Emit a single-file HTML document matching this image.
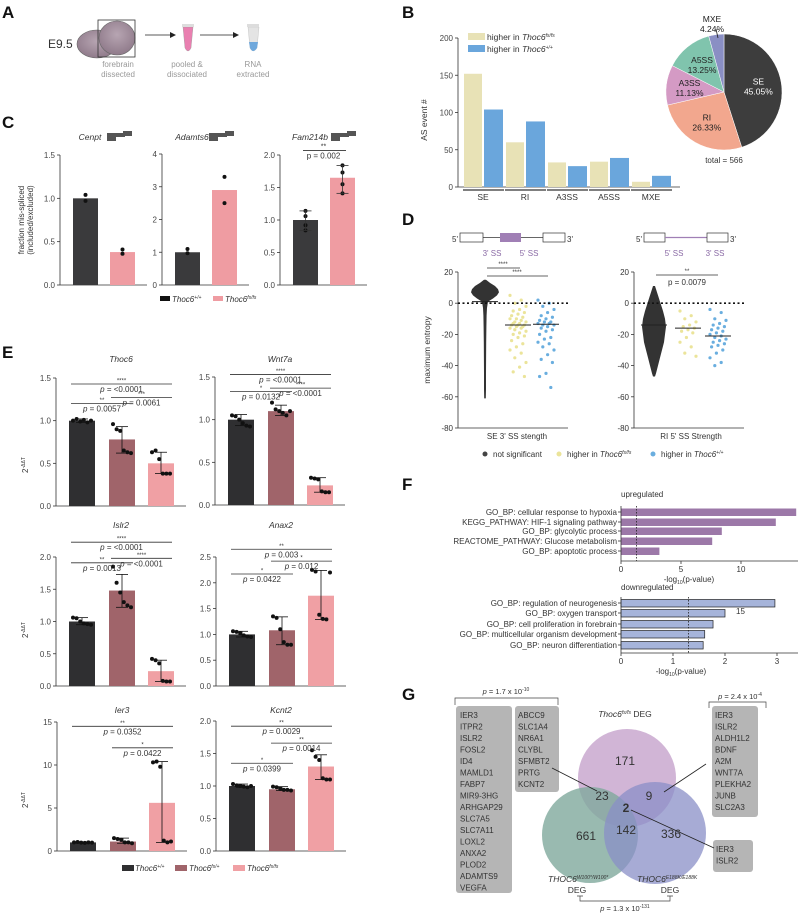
<!DOCTYPE html>
<html><head><meta charset="utf-8"><style>
html,body{margin:0;padding:0;background:#fff;}
svg{display:block;font-family:"Liberation Sans",Arial,sans-serif;}
</style></head><body>
<svg id="fig" width="800" height="915" viewBox="0 0 800 915" xmlns="http://www.w3.org/2000/svg">
<defs><radialGradient id="brainG" cx="0.5" cy="0.4" r="0.6"><stop offset="0" stop-color="#b7a5b2"/><stop offset="1" stop-color="#8f7a8a"/></radialGradient></defs>
<g font-weight="bold" font-size="17" fill="#111">
<text x="2" y="18">A</text>
<text x="402" y="18">B</text>
<text x="2" y="128">C</text>
<text x="402" y="225">D</text>
<text x="2" y="358">E</text>
<text x="402" y="490">F</text>
<text x="402" y="700">G</text>
</g>
<g>
<text x="48" y="48" font-size="12" fill="#333">E9.5</text>
<ellipse cx="97" cy="44" rx="20" ry="14" fill="url(#brainG)" stroke="#666" stroke-width="0.6"/>
<ellipse cx="117" cy="38" rx="18" ry="17" fill="url(#brainG)" stroke="#666" stroke-width="0.6"/>
<rect x="98" y="20" width="37" height="37" fill="none" stroke="#333" stroke-width="0.8"/>
<text x="118" y="67" font-size="8" fill="#999" text-anchor="middle">forebrain</text>
<text x="118" y="77" font-size="8" fill="#999" text-anchor="middle">dissected</text>
<line x1="145" y1="35" x2="172" y2="35" stroke="#222" stroke-width="0.8"/>
<polygon points="176,35 170,32 170,38" fill="#222"/>
<path d="M183,27 L193,27 L191,48 Q188,54 185,48 Z" fill="#e97fb0" stroke="#999" stroke-width="0.4"/>
<rect x="182" y="24" width="12" height="3" fill="#ddd"/>
<text x="187" y="67" font-size="8" fill="#999" text-anchor="middle">pooled &amp;</text>
<text x="187" y="77" font-size="8" fill="#999" text-anchor="middle">dissociated</text>
<line x1="200" y1="35" x2="235" y2="35" stroke="#222" stroke-width="0.8"/>
<polygon points="239,35 233,32 233,38" fill="#222"/>
<path d="M248,27 L259,27 L257,48 Q253,54 250,48 Z" fill="#e4e4e4" stroke="#bbb" stroke-width="0.4"/>
<path d="M249,42 L258,42 L257,48 Q253,54 250,48 Z" fill="#6fa8dc"/>
<rect x="247" y="24" width="12" height="3" fill="#ddd"/>
<text x="253" y="67" font-size="8" fill="#999" text-anchor="middle">RNA</text>
<text x="253" y="77" font-size="8" fill="#999" text-anchor="middle">extracted</text>
</g>
<g font-size="8.5" fill="#333">
<circle cx="627" cy="778" r="49" fill="#c9a8cf" fill-opacity="0.85"/>
<circle cx="590" cy="835" r="48" fill="#7fa99c" fill-opacity="0.8"/>
<circle cx="655" cy="833" r="51" fill="#8a8fc7" fill-opacity="0.75"/>
<g font-size="12" text-anchor="middle" fill="#333">
<text x="625" y="765">171</text>
<text x="602" y="800">23</text>
<text x="649" y="800">9</text>
<text x="626" y="812" font-weight="bold">2</text>
<text x="586" y="840">661</text>
<text x="626" y="834">142</text>
<text x="671" y="838">336</text>
</g>
<text x="625" y="717" text-anchor="middle"><tspan font-style="italic">Thoc6</tspan><tspan font-size="5" dy="-3" font-style="italic">fs/fs</tspan><tspan dy="3"> DEG</tspan></text>
<text x="548" y="882" text-anchor="start"><tspan font-style="italic">THOC6</tspan><tspan font-size="5" dy="-3" font-style="italic">W100*/W100*</tspan></text>
<text x="577" y="893" text-anchor="middle">DEG</text>
<text x="637" y="882" text-anchor="start"><tspan font-style="italic">THOC6</tspan><tspan font-size="5" dy="-3" font-style="italic">E188K/E188K</tspan></text>
<text x="670" y="893" text-anchor="middle">DEG</text>
<path d="M580,896 V901 H670 V896 M577,896 H583 M667,896 H673" fill="none" stroke="#444" stroke-width="0.7"/>
<text x="625" y="911" font-size="7.5" text-anchor="middle"><tspan font-style="italic">p</tspan> = 1.3 x 10<tspan font-size="5" dy="-3">-131</tspan></text>
<path d="M455,705 V698 H558 V705" fill="none" stroke="#444" stroke-width="0.7"/>
<text x="506" y="694" font-size="7.5" text-anchor="middle"><tspan font-style="italic">p</tspan> = 1.7 x 10<tspan font-size="5" dy="-3">-10</tspan></text>
<path d="M709,708 V702 H766 V708" fill="none" stroke="#444" stroke-width="0.7"/>
<text x="740" y="699" font-size="7.5" text-anchor="middle"><tspan font-style="italic">p</tspan> = 2.4 x 10<tspan font-size="5" dy="-3">-4</tspan></text>
<rect x="456" y="706" width="56" height="187" rx="3" fill="#b5b5b5"/>
<rect x="515" y="706" width="44" height="86" rx="3" fill="#b5b5b5"/>
<rect x="712" y="706" width="46" height="111" rx="3" fill="#b5b5b5"/>
<rect x="713" y="840" width="40" height="32" rx="3" fill="#b5b5b5"/>
<line x1="552" y1="768" x2="597" y2="791" stroke="#222" stroke-width="0.8"/>
<line x1="706" y1="764" x2="664" y2="792" stroke="#222" stroke-width="0.8"/>
<line x1="631" y1="810" x2="714" y2="848" stroke="#222" stroke-width="0.8"/>
<g id="geneLists" font-size="8" fill="#333"></g>
</g>
<g id="charts"></g>
</svg>
<script>
// Panel B
const bCategories=['SE','RI','A3SS','A5SS','MXE'];
const bHigherFs=[152,60,33,34,7];
const bHigherWt=[104,88,28,39,15];
const bTicks=[0,50,100,150,200];
const pieLabels=['SE','RI','A3SS','A5SS','MXE'];
const pieValues=[45.05,26.33,11.13,13.25,4.24];
// Panel C
const cGenes=['Cenpt','Adamts6','Fam214b'];
const cWT=[1.0,1.0,1.0];
const cFS=[0.38,2.9,1.65];
const cPtsWT=[[1.04,0.97],[1.1,0.97],[1.14,1.06,0.92,0.84]];
const cPtsFS=[[0.41,0.36],[3.3,2.5],[1.84,1.73,1.55,1.41]];
const cMax=[1.5,4,2.0];
const cTicks=[[0,0.5,1.0,1.5],[0,1,2,3,4],[0,0.5,1.0,1.5,2.0]];
// Panel D
const dSEyellow=[5,2,0,-2,-4,-5,-6,-7,-8,-9,-10,-10,-11,-12,-12,-13,-13,-14,-14,-14,-15,-15,-16,-16,-17,-18,-19,-20,-21,-22,-24,-26,-28,-30,-32,-35,-38,-41,-44,-47];
const dSEblue=[2,0,-2,-4,-6,-8,-9,-10,-11,-12,-12,-13,-13,-14,-14,-15,-16,-17,-18,-20,-22,-23,-25,-26,-28,-30,-33,-36,-38,-45,-47,-54];
const dRIyellow=[-5,-8,-10,-12,-14,-15,-16,-17,-18,-19,-22,-25,-28,-32,-34];
const dRIblue=[-4,-6,-10,-11,-13,-14,-15,-16,-17,-18,-19,-20,-21,-22,-23,-24,-25,-26,-27,-28,-30,-32,-35,-38,-40];
const dMedians=[[1,-14,-13.5],[-14,-16,-21]];
const dSEviolinVals=[15,13,11,9,7,5,3,1,-3,-8,-15,-25,-35,-45,-55,-61];
const dSEviolinWidth=[1,5,10,13,14,12,8,3,2,1.6,1.4,1.2,1.1,1,1,0.8];
const dRIviolinVals=[11,7,3,-1,-5,-10,-15,-20,-25,-30,-35,-40,-45,-47];
const dRIviolinWidth=[1,3,5,7,9,11,12,11,10,8,6,4,2,1];
const dTicks=[20,0,-20,-40,-60,-80];
// Panel E
const eGenes=['Thoc6','Wnt7a','Islr2','Anax2','Ier3','Kcnt2'];
const eMeans=[[1.0,0.78,0.5],[1.0,1.1,0.23],[1.0,1.48,0.23],[1.0,1.08,1.75],[1.0,1.1,5.6],[1.0,0.95,1.3]];
const ePoints=[
 [[1.0,1.02,0.99,1.01,0.98,1.0],[0.96,0.9,0.88,0.65,0.63,0.62],[0.63,0.65,0.55,0.38,0.38,0.38]],
 [[1.05,1.04,1.0,0.96,0.93,0.92],[1.2,1.12,1.1,1.08,1.05,1.1],[0.32,0.31,0.3,0.16,0.15,0.15]],
 [[1.06,1.05,1.0,0.97,0.96,0.95],[1.85,1.6,1.45,1.3,1.25,1.22],[0.42,0.4,0.35,0.08,0.07,0.07]],
 [[1.06,1.05,1.02,0.98,0.96,0.95],[1.35,1.32,1.1,0.85,0.8,0.8],[2.25,2.22,1.38,1.3,1.29,2.2]],
 [[1.0,1.05,0.98,0.95,1.0,0.97],[1.5,1.4,1.3,1.0,1.0,0.9],[10.3,10.4,9.8,1.2,1.0,1.1]],
 [[1.03,1.01,1.0,0.99,0.98,1.0],[0.99,0.98,0.96,0.94,0.94,0.93],[1.55,1.45,1.4,1.12,1.1,1.1]]];
const eErrLo=[[0.98,0.62,0.38],[0.93,1.05,0.15],[0.95,1.22,0.07],[0.95,0.8,1.29],[0.95,0.9,1.0],[0.98,0.93,1.1]];
const eErrHi=[[1.02,0.93,0.63],[1.06,1.17,0.32],[1.06,1.73,0.4],[1.06,1.34,2.24],[1.05,1.5,10.4],[1.03,0.99,1.48]];
const eMax=[1.5,1.5,2.0,2.5,15,2.0];
const eTicks=[[0,0.5,1.0,1.5],[0,0.5,1.0,1.5],[0,0.5,1.0,1.5,2.0],[0,0.5,1.0,1.5,2.0,2.5],[0,5,10,15],[0,0.5,1.0,1.5,2.0]];
const eBrackets=[
 [[0,2,1.43,'****','p = <0.0001'],[0,1,1.2,'**','p = 0.0057'],[1,2,1.27,'***','p = 0.0061']],
 [[0,2,1.53,'****','p = <0.0001'],[0,1,1.33,'*','p = 0.0132'],[1,2,1.37,'****','p = <0.0001']],
 [[0,2,2.23,'****','p = <0.0001'],[0,1,1.91,'**','p = 0.0013'],[1,2,1.98,'****','p = <0.0001']],
 [[0,2,2.65,'**','p = 0.003'],[0,1,2.17,'*','p = 0.0422'],[1,2,2.42,'*','p = 0.012']],
 [[0,2,14.5,'**','p = 0.0352'],[1,2,12,'*','p = 0.0422']],
 [[0,2,1.92,'**','p = 0.0029'],[1,2,1.66,'**','p = 0.0014'],[0,1,1.35,'*','p = 0.0399']]];
// Panel F
const fUpTerms=['GO_BP: cellular response to hypoxia','KEGG_PATHWAY: HIF-1 signaling pathway','GO_BP: glycolytic process','REACTOME_PATHWAY: Glucose metabolism','GO_BP: apoptotic process'];
const fUpVals=[14.6,12.9,8.4,7.6,3.2];
const fUpTicks=[0,5,10];
const fDownTerms=['GO_BP: regulation of neurogenesis','GO_BP: oxygen transport','GO_BP: cell proliferation in forebrain','GO_BP: multicellular organism development','GO_BP: neuron differentiation'];
const fDownVals=[2.96,2.0,1.77,1.61,1.58];
const fDownTicks=[0,1,2,3];
const fThreshold=1.3;
// Panel G gene lists
const gList1=['IER3','ITPR2','ISLR2','FOSL2','ID4','MAMLD1','FABP7','MIR9-3HG','ARHGAP29','SLC7A5','SLC7A11','LOXL2','ANXA2','PLOD2','ADAMTS9','VEGFA'];
const gList2=['ABCC9','SLC1A4','NR6A1','CLYBL','SFMBT2','PRTG','KCNT2'];
const gList3=['IER3','ISLR2','ALDH1L2','BDNF','A2M','WNT7A','PLEKHA2','JUNB','SLC2A3'];
const gList4=['IER3','ISLR2'];

const NS='http://www.w3.org/2000/svg';
const root=document.getElementById('charts');
function mk(t,a,p){const e=document.createElementNS(NS,t);for(const k in a)e.setAttribute(k,a[k]);(p||root).appendChild(e);return e;}
function nm(e,n){
 
 
 return e;}
function T(x,y,s,o,p){const e=mk('text',Object.assign({x:x,y:y,'font-size':8,fill:'#333'},o||{}),p);e.textContent=s;return e;}
function supText(x,y,base,sup,o,p){const e=mk('text',Object.assign({x:x,y:y,'font-size':8,fill:'#333'},o||{}),p);
 const a=mk('tspan',{'font-style':'italic'},e);a.textContent=base;
 const b=mk('tspan',{'font-size':5,dy:-3,'font-style':'italic'},e);b.textContent=sup;return e;}
function L(x1,y1,x2,y2,o,p){return mk('line',Object.assign({x1:x1,y1:y1,x2:x2,y2:y2,stroke:'#333','stroke-width':0.8},o||{}),p);}
function fmt(v,max){return max<=5&&max!==4?v.toFixed(1):String(v);}
function yAxis(g,x,top,zero,max,ticks,name){
 const s=v=>zero-(zero-top)*v/max;
 nm(L(x,s(ticks[ticks.length-1]),x,zero,{},g),name+'-y-axis');
 ticks.forEach(t=>{nm(L(x-3,s(t),x,s(t),{},g),name+'-y-tick');
  nm(T(x-5,s(t)+3,fmt(t,max),{'text-anchor':'end','font-size':8,fill:'#444'},g),name+'-y-tick-label');});
 return s;}
function dot(g,x,y,r,fill,name){return nm(mk('circle',{cx:x,cy:y,r:r,fill:fill},g),name);}

const gl=document.getElementById('geneLists');
gList1.forEach((s,i)=>{nm(T(460,718+i*11.5,s,{'font-size':8},gl),'gene-list-left-item');});
gList2.forEach((s,i)=>{nm(T(518,718+i*11.5,s,{'font-size':8},gl),'gene-list-left2-item');});
gList3.forEach((s,i)=>{nm(T(715,718+i*11.5,s,{'font-size':8},gl),'gene-list-right-item');});
gList4.forEach((s,i)=>{nm(T(716,852+i*11.5,s,{'font-size':8},gl),'gene-list-center-item');});

// PANEL B
(function(){
 const g=nm(mk('g',{}),'panel-b-bar-chart');
 const s=yAxis(g,458,38,187,200,bTicks,'b');
 nm(L(458,187,680,187,{},g),'b-x-axis');
 nm(T(427,120,'AS event #',{'text-anchor':'middle',transform:'rotate(-90 427 120)','font-size':8.5},g),'b-y-axis-title');
 bCategories.forEach((c,i)=>{
  const x0=464+i*42;
  nm(mk('rect',{x:x0,y:s(bHigherFs[i]),width:18,height:187-s(bHigherFs[i]),fill:'#e8e2b6'},g),'bar-fs-'+c);
  nm(mk('rect',{x:x0+20,y:s(bHigherWt[i]),width:19,height:187-s(bHigherWt[i]),fill:'#6aa6dc'},g),'bar-wt-'+c);
  nm(L(x0-1,190,x0+40,190,{'stroke-width':1.2},g),'group-underline');
  nm(T(x0+19,200,c,{'text-anchor':'middle','font-size':8.5},g),'b-x-label');});
 nm(mk('rect',{x:468,y:33,width:17,height:7,fill:'#e8e2b6'},g),'legend-fs-swatch');
 const t1=nm(T(487,40,'higher in ',{'font-size':8.5},g),'legend-fs-label');
 const a=mk('tspan',{'font-style':'italic'},t1);a.textContent='Thoc6';const b=mk('tspan',{'font-size':5,dy:-3,'font-style':'italic'},t1);b.textContent='fs/fs';
 nm(mk('rect',{x:468,y:45,width:17,height:7,fill:'#6aa6dc'},g),'legend-wt-swatch');
 const t2=nm(T(487,52,'higher in ',{'font-size':8.5},g),'legend-wt-label');
 const c=mk('tspan',{'font-style':'italic'},t2);c.textContent='Thoc6';const d=mk('tspan',{'font-size':5,dy:-3,'font-style':'italic'},t2);d.textContent='+/+';
 const cx=724,cy=92,r=58,cols=['#3d3d3d','#f2a78e','#d49ac4','#80c4ad','#8a8fc4'];
 const pg=nm(mk('g',{},g),'pie-chart');
 const tot=pieValues.reduce((a,b)=>a+b,0);let ang=-Math.PI/2;
 pieValues.forEach((v,i)=>{const a2=ang+v/tot*2*Math.PI;
  const p=`M${cx},${cy} L${cx+r*Math.cos(ang)},${cy+r*Math.sin(ang)} A${r},${r} 0 ${a2-ang>Math.PI?1:0} 1 ${cx+r*Math.cos(a2)},${cy+r*Math.sin(a2)} Z`;
  nm(mk('path',{d:p,fill:cols[i],stroke:'#fff','stroke-width':0.5},pg),'pie-slice-'+pieLabels[i]);
  const m=(ang+a2)/2;let lx=cx+r*0.6*Math.cos(m),ly=cy+r*0.6*Math.sin(m);
  if(i===4){lx=cx-12;ly=cy-68;nm(L(cx-8,cy-63,cx-6,cy-54,{'stroke':'#222'},pg),'mxe-leader');}
  const fc=i===0?'#fff':'#222';
  nm(T(lx,ly-2,pieLabels[i],{'text-anchor':'middle','font-size':8.5,fill:fc},pg),'pie-label');
  nm(T(lx,ly+8,v.toFixed(2)+'%',{'text-anchor':'middle','font-size':8.5,fill:fc},pg),'pie-percent');
  ang=a2;});
 nm(T(724,163,'total = 566',{'text-anchor':'middle','font-size':8},pg),'pie-total');
})();

// PANEL C
(function(){
 const ax=[60,162,280],tops=[155,154,155],zero=285;
 nm(T(24,220,'fraction mis-spliced',{'text-anchor':'middle',transform:'rotate(-90 24 220)','font-size':8},root),'c-y-title-1');
 nm(T(33,220,'(included/excluded)',{'text-anchor':'middle',transform:'rotate(-90 33 220)','font-size':8},root),'c-y-title-2');
 cGenes.forEach((gname,i)=>{
  const g=nm(mk('g',{}),'c-chart-'+gname);
  const s=yAxis(g,ax[i],tops[i],zero,cMax[i],cTicks[i],'c');
  nm(L(ax[i],zero,ax[i]+87,zero,{},g),'c-x-axis');
  const bx=[ax[i]+13,ax[i]+50];
  nm(mk('rect',{x:bx[0],y:s(cWT[i]),width:25,height:zero-s(cWT[i]),fill:'#3a3a3c'},g),'c-bar-wt');
  nm(mk('rect',{x:bx[1],y:s(cFS[i]),width:25,height:zero-s(cFS[i]),fill:'#ef9ca2'},g),'c-bar-fs');
  cPtsWT[i].forEach(v=>dot(g,bx[0]+12.5,s(v),2,'#111','c-point-wt'));
  cPtsFS[i].forEach(v=>dot(g,bx[1]+12.5,s(v),2,'#111','c-point-fs'));
  if(cPtsWT[i].length>2){
   [[0,cPtsWT[i]],[1,cPtsFS[i]]].forEach(([k,arr])=>{const xc=bx[k]+12.5,lo=Math.min(...arr),hi=Math.max(...arr);
    nm(L(xc,s(lo),xc,s(hi),{},g),'c-error-bar');nm(L(xc-6,s(lo),xc+6,s(lo),{},g),'c-error-cap');nm(L(xc-6,s(hi),xc+6,s(hi),{},g),'c-error-cap');});
   nm(L(bx[0]+10,s(2.07),bx[1]+16,s(2.07),{},g),'c-sig-line');
   nm(T((bx[0]+bx[1])/2+12,s(2.1),'**',{'text-anchor':'middle','font-size':7},g),'c-sig-stars');
   nm(T((bx[0]+bx[1])/2+12,s(1.95),'p = 0.002',{'text-anchor':'middle','font-size':8},g),'c-sig-p');}
  nm(T(ax[i]+30,140,gname,{'text-anchor':'middle','font-style':'italic','font-size':8.5},g),'c-gene-title');
  const ix=ax[i]+47+(i===2?4:0);
  nm(mk('rect',{x:ix,y:133,width:9,height:8,fill:'#555'},g),'exon-icon');
  nm(mk('rect',{x:ix+9,y:133,width:9,height:4,fill:'#555'},g),'exon-icon');
  nm(mk('rect',{x:ix+16,y:131,width:9,height:5,fill:'#555'},g),'exon-icon');});
 nm(mk('rect',{x:160,y:296,width:10,height:5,fill:'#111'},root),'c-legend-wt-swatch');
 nm(supText(172,302,'Thoc6','+/+',{},root),'c-legend-wt-label');
 nm(mk('rect',{x:213,y:296,width:10,height:5,fill:'#ef9ca2'},root),'c-legend-fs-swatch');
 nm(supText(225,302,'Thoc6','fs/fs',{},root),'c-legend-fs-label');
})();

// PANEL D
(function(){
 const top=272,bot=428;
 nm(T(430,350,'maximum entropy',{'text-anchor':'middle',transform:'rotate(-90 430 350)','font-size':8.5},root),'d-y-title');
 const axes=[458,634],gx=[[485,518,546],[654,688,718]];
 const sets=[[dSEyellow,dSEblue],[dRIyellow,dRIblue]];
 const vio=[[dSEviolinVals,dSEviolinWidth],[dRIviolinVals,dRIviolinWidth]];
 axes.forEach((ax,k)=>{
  const g=nm(mk('g',{}),'d-plot-'+k);
  const s=v=>top+(bot-top)*(20-v)/100;
  nm(L(ax,s(20),ax,bot,{},g),'d-y-axis');
  dTicks.forEach(t=>{nm(L(ax-3,s(t),ax,s(t),{},g),'d-y-tick');nm(T(ax-5,s(t)+3,String(t),{'text-anchor':'end','font-size':8},g),'d-y-tick-label');});
  nm(L(ax,bot,ax+110,bot,{},g),'d-x-axis');
  const [vv,vw]=vio[k];let pR='',pL='';
  vv.forEach((v,i)=>{pR+=(i?'L':'M')+(gx[k][0]+vw[i])+','+s(v);});
  for(let i=vv.length-1;i>=0;i--)pL+='L'+(gx[k][0]-vw[i])+','+s(vv[i]);
  nm(mk('path',{d:pR+pL+'Z',fill:'#333'},g),'d-violin-not-significant');
  const cols=['#ebe49a','#6aaedf'];
  sets[k].forEach((arr,j)=>{arr.forEach((v,i)=>{const off=(((i*7)%11)-5)*1.6;dot(g,gx[k][j+1]+off,s(v),1.6,cols[j],'d-point');});});
  dMedians[k].forEach((m,j)=>nm(L(gx[k][j]-13,s(m),gx[k][j]+13,s(m),{stroke:'#222','stroke-width':1},g),'d-median'));
  nm(L(ax,s(0),ax+110,s(0),{stroke:'#111','stroke-width':1.6,'stroke-dasharray':'2,2.5'},g),'d-zero-line');
 });
 nm(L(487,268,520,268,{},root),'d-sig-line-1');nm(T(503,266,'****',{'text-anchor':'middle','font-size':6},root),'d-sig-stars');
 nm(L(487,276,548,276,{},root),'d-sig-line-2');nm(T(517,274,'****',{'text-anchor':'middle','font-size':6},root),'d-sig-stars');
 nm(L(656,275,718,275,{},root),'d-sig-line-3');nm(T(687,273,'**',{'text-anchor':'middle','font-size':6},root),'d-sig-stars');
 nm(T(687,285,'p = 0.0079',{'text-anchor':'middle','font-size':8},root),'d-sig-p');
 nm(T(517,439,"SE 3' SS stength",{'text-anchor':'middle','font-size':8},root),'d-x-title-1');
 nm(T(691,439,"RI 5' SS Strength",{'text-anchor':'middle','font-size':8},root),'d-x-title-2');
 dot(root,485,454,2.5,'#444','d-legend-ns-dot');nm(T(493,457,'not significant',{'font-size':8},root),'d-legend-ns');
 dot(root,559,454,2.5,'#ebe49a','d-legend-fs-dot');const t=nm(T(567,457,'higher in ',{'font-size':8},root),'d-legend-fs');
 let a=mk('tspan',{'font-style':'italic'},t);a.textContent='Thoc6';a=mk('tspan',{'font-size':5,dy:-3,'font-style':'italic'},t);a.textContent='fs/fs';
 dot(root,653,454,2.5,'#6aaedf','d-legend-wt-dot');const t2=nm(T(661,457,'higher in ',{'font-size':8},root),'d-legend-wt');
 a=mk('tspan',{'font-style':'italic'},t2);a.textContent='Thoc6';a=mk('tspan',{'font-size':5,dy:-3,'font-style':'italic'},t2);a.textContent='+/+';
 const dg=nm(mk('g',{}),'d-exon-diagrams');
 nm(T(452,242,"5'",{'font-size':8},dg),'five-prime');nm(T(567,242,"3'",{'font-size':8},dg),'three-prime');
 nm(mk('rect',{x:460,y:233,width:23,height:9,fill:'#fff',stroke:'#333','stroke-width':0.7},dg),'exon');
 nm(L(483,237.5,500,237.5,{},dg),'intron');
 nm(mk('rect',{x:500,y:233,width:21,height:9,fill:'#a07fb5'},dg),'alt-exon');
 nm(L(521,237.5,543,237.5,{},dg),'intron');
 nm(mk('rect',{x:543,y:233,width:22,height:9,fill:'#fff',stroke:'#333','stroke-width':0.7},dg),'exon');
 nm(T(492,256,"3' SS",{'text-anchor':'middle','font-size':8,fill:'#8a6aa5'},dg),'ss-label');
 nm(T(529,256,"5' SS",{'text-anchor':'middle','font-size':8,fill:'#8a6aa5'},dg),'ss-label');
 nm(T(636,242,"5'",{'font-size':8},dg),'five-prime');nm(T(730,242,"3'",{'font-size':8},dg),'three-prime');
 nm(mk('rect',{x:644,y:233,width:21,height:9,fill:'#fff',stroke:'#333','stroke-width':0.7},dg),'exon');
 nm(L(665,237.5,707,237.5,{stroke:'#a07fb5','stroke-width':1.2},dg),'retained-intron');
 nm(mk('rect',{x:707,y:233,width:21,height:9,fill:'#fff',stroke:'#333','stroke-width':0.7},dg),'exon');
 nm(T(674,256,"5' SS",{'text-anchor':'middle','font-size':8,fill:'#8a6aa5'},dg),'ss-label');
 nm(T(715,256,"3' SS",{'text-anchor':'middle','font-size':8,fill:'#8a6aa5'},dg),'ss-label');
})();

// PANEL E
(function(){
 const layout=[[56,378,506],[215,377,505],[56,557,686],[216,557,686],[57,722,851],[216,721,851]];
 const titleY=[362,362,528,528,713,713];
 const cols=['#2f2f31','#a0646a','#f0a0a4'];
 [[28,465],[28,630],[28,800]].forEach(p=>{const t=nm(T(p[0],p[1],'2',{'text-anchor':'middle',transform:`rotate(-90 ${p[0]} ${p[1]})`,'font-size':8},root),'e-y-title');
  const s=mk('tspan',{'font-size':5,dy:-3},t);s.textContent='-ΔΔT';});
 eGenes.forEach((gname,i)=>{
  const [ax,top,zero]=layout[i];
  const g=nm(mk('g',{}),'e-chart-'+gname);
  const s=yAxis(g,ax,top,zero,eMax[i],eTicks[i],'e');
  nm(L(ax,zero,ax+130,zero,{},g),'e-x-axis');
  const bx=[ax+13,ax+53,ax+92];
  eMeans[i].forEach((v,j)=>{
   nm(mk('rect',{x:bx[j],y:s(v),width:26,height:zero-s(v),fill:cols[j]},g),'e-bar-'+j);
   const xc=bx[j]+13;
   nm(L(xc,s(eErrLo[i][j]),xc,s(eErrHi[i][j]),{'stroke':'#111'},g),'e-error-bar');
   nm(L(xc-6,s(eErrLo[i][j]),xc+6,s(eErrLo[i][j]),{'stroke':'#111'},g),'e-error-cap');
   nm(L(xc-6,s(eErrHi[i][j]),xc+6,s(eErrHi[i][j]),{'stroke':'#111'},g),'e-error-cap');
   ePoints[i][j].forEach((p,k)=>dot(g,xc+(k-2.5)*3.6,s(p),2,'#111','e-point'));});
  nm(T(ax+65,titleY[i],gname,{'text-anchor':'middle','font-style':'italic','font-size':8.5},g),'e-gene-title');
  eBrackets[i].forEach(b=>{const x1=bx[b[0]]+2,x2=bx[b[1]]+24,y=s(b[2]);
   nm(L(x1,y,x2,y,{},g),'e-sig-line');
   nm(T((x1+x2)/2,y-1.5,b[3],{'text-anchor':'middle','font-size':6},g),'e-sig-stars');
   const pt=nm(T((x1+x2)/2,y+8,'',{'text-anchor':'middle','font-size':8},g),'e-sig-p');
   const it=mk('tspan',{'font-style':'italic'},pt);it.textContent='p';const r=mk('tspan',{},pt);r.textContent=b[4].slice(1);});});
 nm(mk('rect',{x:122,y:865,width:12,height:6,fill:'#2f2f31'},root),'e-legend-wt-swatch');
 nm(supText(135,871,'Thoc6','+/+',{},root),'e-legend-wt');
 nm(mk('rect',{x:175,y:865,width:12,height:6,fill:'#a0646a'},root),'e-legend-het-swatch');
 nm(supText(189,871,'Thoc6','fs/+',{},root),'e-legend-het');
 nm(mk('rect',{x:233,y:865,width:12,height:6,fill:'#f0a0a4'},root),'e-legend-fs-swatch');
 nm(supText(247,871,'Thoc6','fs/fs',{},root),'e-legend-fs');
})();

// PANEL F
(function(){
 function hbar(terms,vals,ticks,x0,pxPer,rowY,fill,stroke,axisY,title,titleY,name){
  const g=nm(mk('g',{}),name);
  const s=v=>x0+v*pxPer;
  nm(T(x0,titleY,title,{'font-size':8},g),name+'-title');
  terms.forEach((t,i)=>{
   nm(mk('rect',{x:x0,y:rowY[i]-3.5,width:s(vals[i])-x0,height:7.5,fill:fill,stroke:stroke,'stroke-width':0.7},g),name+'-bar');
   nm(L(x0-3,rowY[i],x0,rowY[i],{},g),name+'-tick');
   nm(T(x0-4,rowY[i]+3,t,{'text-anchor':'end','font-size':8},g),name+'-term');});
  nm(L(x0,rowY[0]-6,x0,axisY,{},g),name+'-y-axis');
  nm(L(x0,axisY,798,axisY,{},g),name+'-x-axis');
  ticks.forEach(t=>{nm(L(s(t),axisY,s(t),axisY+3,{},g),name+'-x-tick');nm(T(s(t),axisY+11,String(t),{'text-anchor':'middle','font-size':8},g),name+'-x-tick-label');});
  nm(L(s(fThreshold),rowY[0]-6,s(fThreshold),axisY,{stroke:'#222','stroke-dasharray':'1.5,1.5'},g),name+'-threshold');
  const xl=nm(T(s(ticks[1])+8,axisY+21,'-log',{'text-anchor':'middle','font-size':8},g),name+'-x-title');
  let a=mk('tspan',{'font-size':5,dy:2},xl);a.textContent='10';a=mk('tspan',{dy:-2},xl);a.textContent='(p-value)';
  return g;}
 hbar(fUpTerms,fUpVals,fUpTicks,621,12,[512,522,531,541,551],'#9c78a8','none',561,'upregulated',497,'f-up');
 hbar(fDownTerms,fDownVals,fDownTicks,621,52,[603,613,624,634,645],'#a6b4da','#222',653,'downregulated',590,'f-down');
 nm(T(736,614,'15',{'font-size':8},root),'f-stray-label');
})();
</script>
</body></html>
